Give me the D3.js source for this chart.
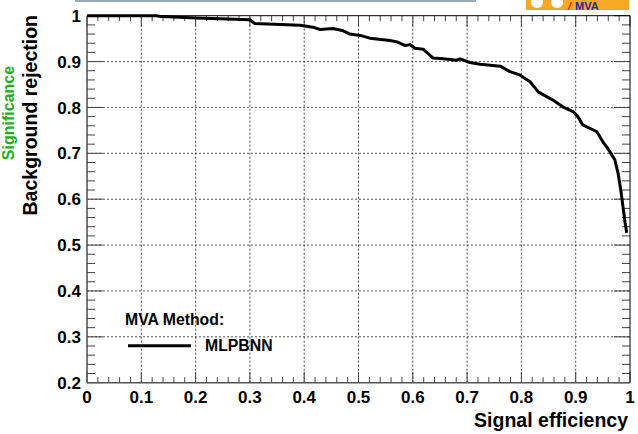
<!DOCTYPE html>
<html>
<head>
<meta charset="utf-8">
<script src="https://cdn.jsdelivr.net/npm/d3@7"></script>
<style>
  html, body { margin: 0; padding: 0; background: #fff; }
  svg { display: block; }
  text { font-family: "Liberation Sans", Arial, Helvetica, sans-serif; font-weight: bold; }
</style>
</head>
<body>
<svg id="chart" width="638" height="434"></svg>
<script>
// ---- data ----
const sigEff = [0.0, 0.127, 0.138, 0.202, 0.300, 0.309, 0.392, 0.416, 0.429, 0.453, 0.472, 0.484, 0.503, 0.521, 0.558, 0.571, 0.586, 0.595, 0.604, 0.619, 0.637, 0.656, 0.681, 0.687, 0.705, 0.724, 0.761, 0.779, 0.797, 0.816, 0.831, 0.858, 0.878, 0.895, 0.904, 0.913, 0.939, 0.950, 0.960, 0.972, 0.978, 0.983, 0.987, 0.991, 0.994];
const bkgRej = [1.0, 1.0, 0.998, 0.995, 0.991, 0.983, 0.979, 0.975, 0.970, 0.972, 0.967, 0.960, 0.957, 0.951, 0.946, 0.943, 0.935, 0.937, 0.929, 0.927, 0.908, 0.906, 0.903, 0.906, 0.898, 0.894, 0.890, 0.878, 0.871, 0.856, 0.834, 0.816, 0.800, 0.791, 0.780, 0.762, 0.747, 0.725, 0.709, 0.686, 0.657, 0.620, 0.584, 0.548, 0.527];
const xTicks = [0, 0.1, 0.2, 0.3, 0.4, 0.5, 0.6, 0.7, 0.8, 0.9, 1];
const xTickLabels = ["0", "0.1", "0.2", "0.3", "0.4", "0.5", "0.6", "0.7", "0.8", "0.9", "1"];
const yTicks = [0.2, 0.3, 0.4, 0.5, 0.6, 0.7, 0.8, 0.9, 1];
const yTickLabels = ["0.2", "0.3", "0.4", "0.5", "0.6", "0.7", "0.8", "0.9", "1"];
const methodName = "MLPBNN";

// ---- layout ----
const L = 87, R = 630, T = 15.7, B = 382.7;
const svg = d3.select("#chart");
const x = d3.scaleLinear().domain([0, 1]).range([L, R]);
const y = d3.scaleLinear().domain([0.2, 1]).range([B, T]);

// header strip & logo
svg.append("rect").attr("x", 75).attr("y", 0).attr("width", 401).attr("height", 2).attr("fill", "#9eabb6");
const defs = svg.append("defs");
defs.append("clipPath").attr("id", "logoclip").append("rect").attr("x", 526).attr("y", 0).attr("width", 103).attr("height", 10);
const logo = svg.append("g").attr("clip-path", "url(#logoclip)");
logo.append("rect").attr("x", 526).attr("y", 0).attr("width", 103).attr("height", 10).attr("fill", "#f9a825");
logo.append("circle").attr("cx", 537).attr("cy", 2).attr("r", 6).attr("fill", "#fff");
logo.append("circle").attr("cx", 557).attr("cy", 2).attr("r", 6).attr("fill", "#fff");
svg.append("text").attr("x", 568).attr("y", 9.5).attr("font-size", 11).attr("font-style", "italic").attr("fill", "#e0161b").text("/");
svg.append("text").attr("x", 575).attr("y", 9.5).attr("font-size", 11).attr("fill", "#1d2f8f").text("MVA");

// grid
const gGrid = svg.append("g").attr("stroke", "#222").attr("stroke-width", 0.8).attr("stroke-dasharray", "2,2");
xTicks.filter(v => v > 0 && v < 1).forEach(v => {
  gGrid.append("line").attr("x1", x(v)).attr("x2", x(v)).attr("y1", B).attr("y2", T);
});
yTicks.filter(v => v > 0.2 && v < 1).forEach(v => {
  gGrid.append("line").attr("x1", L).attr("x2", R).attr("y1", y(v)).attr("y2", y(v));
});

// ticks (minor every 0.02)
const minorX = d3.range(0, 51).map(i => i / 50);
const minorY = d3.range(0, 41).map(i => 0.2 + i / 50);
const gTicks = svg.append("g").attr("stroke", "#444").attr("stroke-width", 1);
minorX.forEach((v, i) => {
  const len = (i % 5 === 0) ? 11 : 5.5;
  gTicks.append("line").attr("x1", x(v)).attr("x2", x(v)).attr("y1", B).attr("y2", B - len);
  gTicks.append("line").attr("x1", x(v)).attr("x2", x(v)).attr("y1", T).attr("y2", T + len);
});
minorY.forEach((v, i) => {
  const len = (i % 5 === 0) ? 16 : 8;
  gTicks.append("line").attr("x1", L).attr("x2", L + len).attr("y1", y(v)).attr("y2", y(v));
  gTicks.append("line").attr("x1", R).attr("x2", R - len).attr("y1", y(v)).attr("y2", y(v));
});

// frame
svg.append("line").attr("x1", L).attr("x2", R).attr("y1", T).attr("y2", T).attr("stroke", "#000").attr("stroke-width", 1);
svg.append("line").attr("x1", R).attr("x2", R).attr("y1", T).attr("y2", B).attr("stroke", "#000").attr("stroke-width", 1);
svg.append("line").attr("x1", L).attr("x2", L).attr("y1", T).attr("y2", B).attr("stroke", "#555").attr("stroke-width", 1.6);
svg.append("line").attr("x1", L).attr("x2", R).attr("y1", B).attr("y2", B).attr("stroke", "#555").attr("stroke-width", 1.6);

// tick labels
svg.append("g").selectAll("text").data(xTicks).join("text")
  .attr("x", d => x(d)).attr("y", 403).attr("text-anchor", "middle")
  .attr("font-size", 17).attr("fill", "#000")
  .text((d, i) => xTickLabels[i]);
svg.append("g").selectAll("text").data(yTicks).join("text")
  .attr("x", 81).attr("y", d => y(d)).attr("dy", "0.36em").attr("text-anchor", "end")
  .attr("font-size", 17).attr("fill", "#000")
  .text((d, i) => yTickLabels[i]);

// axis titles
svg.append("text").attr("x", 628).attr("y", 427).attr("text-anchor", "end")
  .attr("font-size", 19.5).attr("fill", "#000").text("Signal efficiency");
svg.append("text").attr("transform", "translate(37,15) rotate(-90)").attr("text-anchor", "end")
  .attr("font-size", 19.5).attr("fill", "#000").text("Background rejection");
svg.append("text").attr("transform", "translate(13.5,113) rotate(-90)").attr("text-anchor", "middle")
  .attr("font-size", 16).attr("fill", "#1fb01f").text("Significance");

// curve
const pts = sigEff.map((s, i) => [s, bkgRej[i]]);
const line = d3.line().x(d => x(d[0])).y(d => y(d[1]));
svg.append("path").datum(pts).attr("d", line).attr("fill", "none")
  .attr("stroke", "#000").attr("stroke-width", 3).attr("stroke-linejoin", "round");

// legend
svg.append("text").attr("x", 125).attr("y", 325).attr("font-size", 15.8).attr("fill", "#000").text("MVA Method:");
svg.append("line").attr("x1", 128).attr("x2", 191).attr("y1", 345.7).attr("y2", 345.7).attr("stroke", "#000").attr("stroke-width", 3);
svg.append("text").attr("x", 205).attr("y", 350.5).attr("font-size", 15.8).attr("fill", "#000").text(methodName);
</script>
</body>
</html>
